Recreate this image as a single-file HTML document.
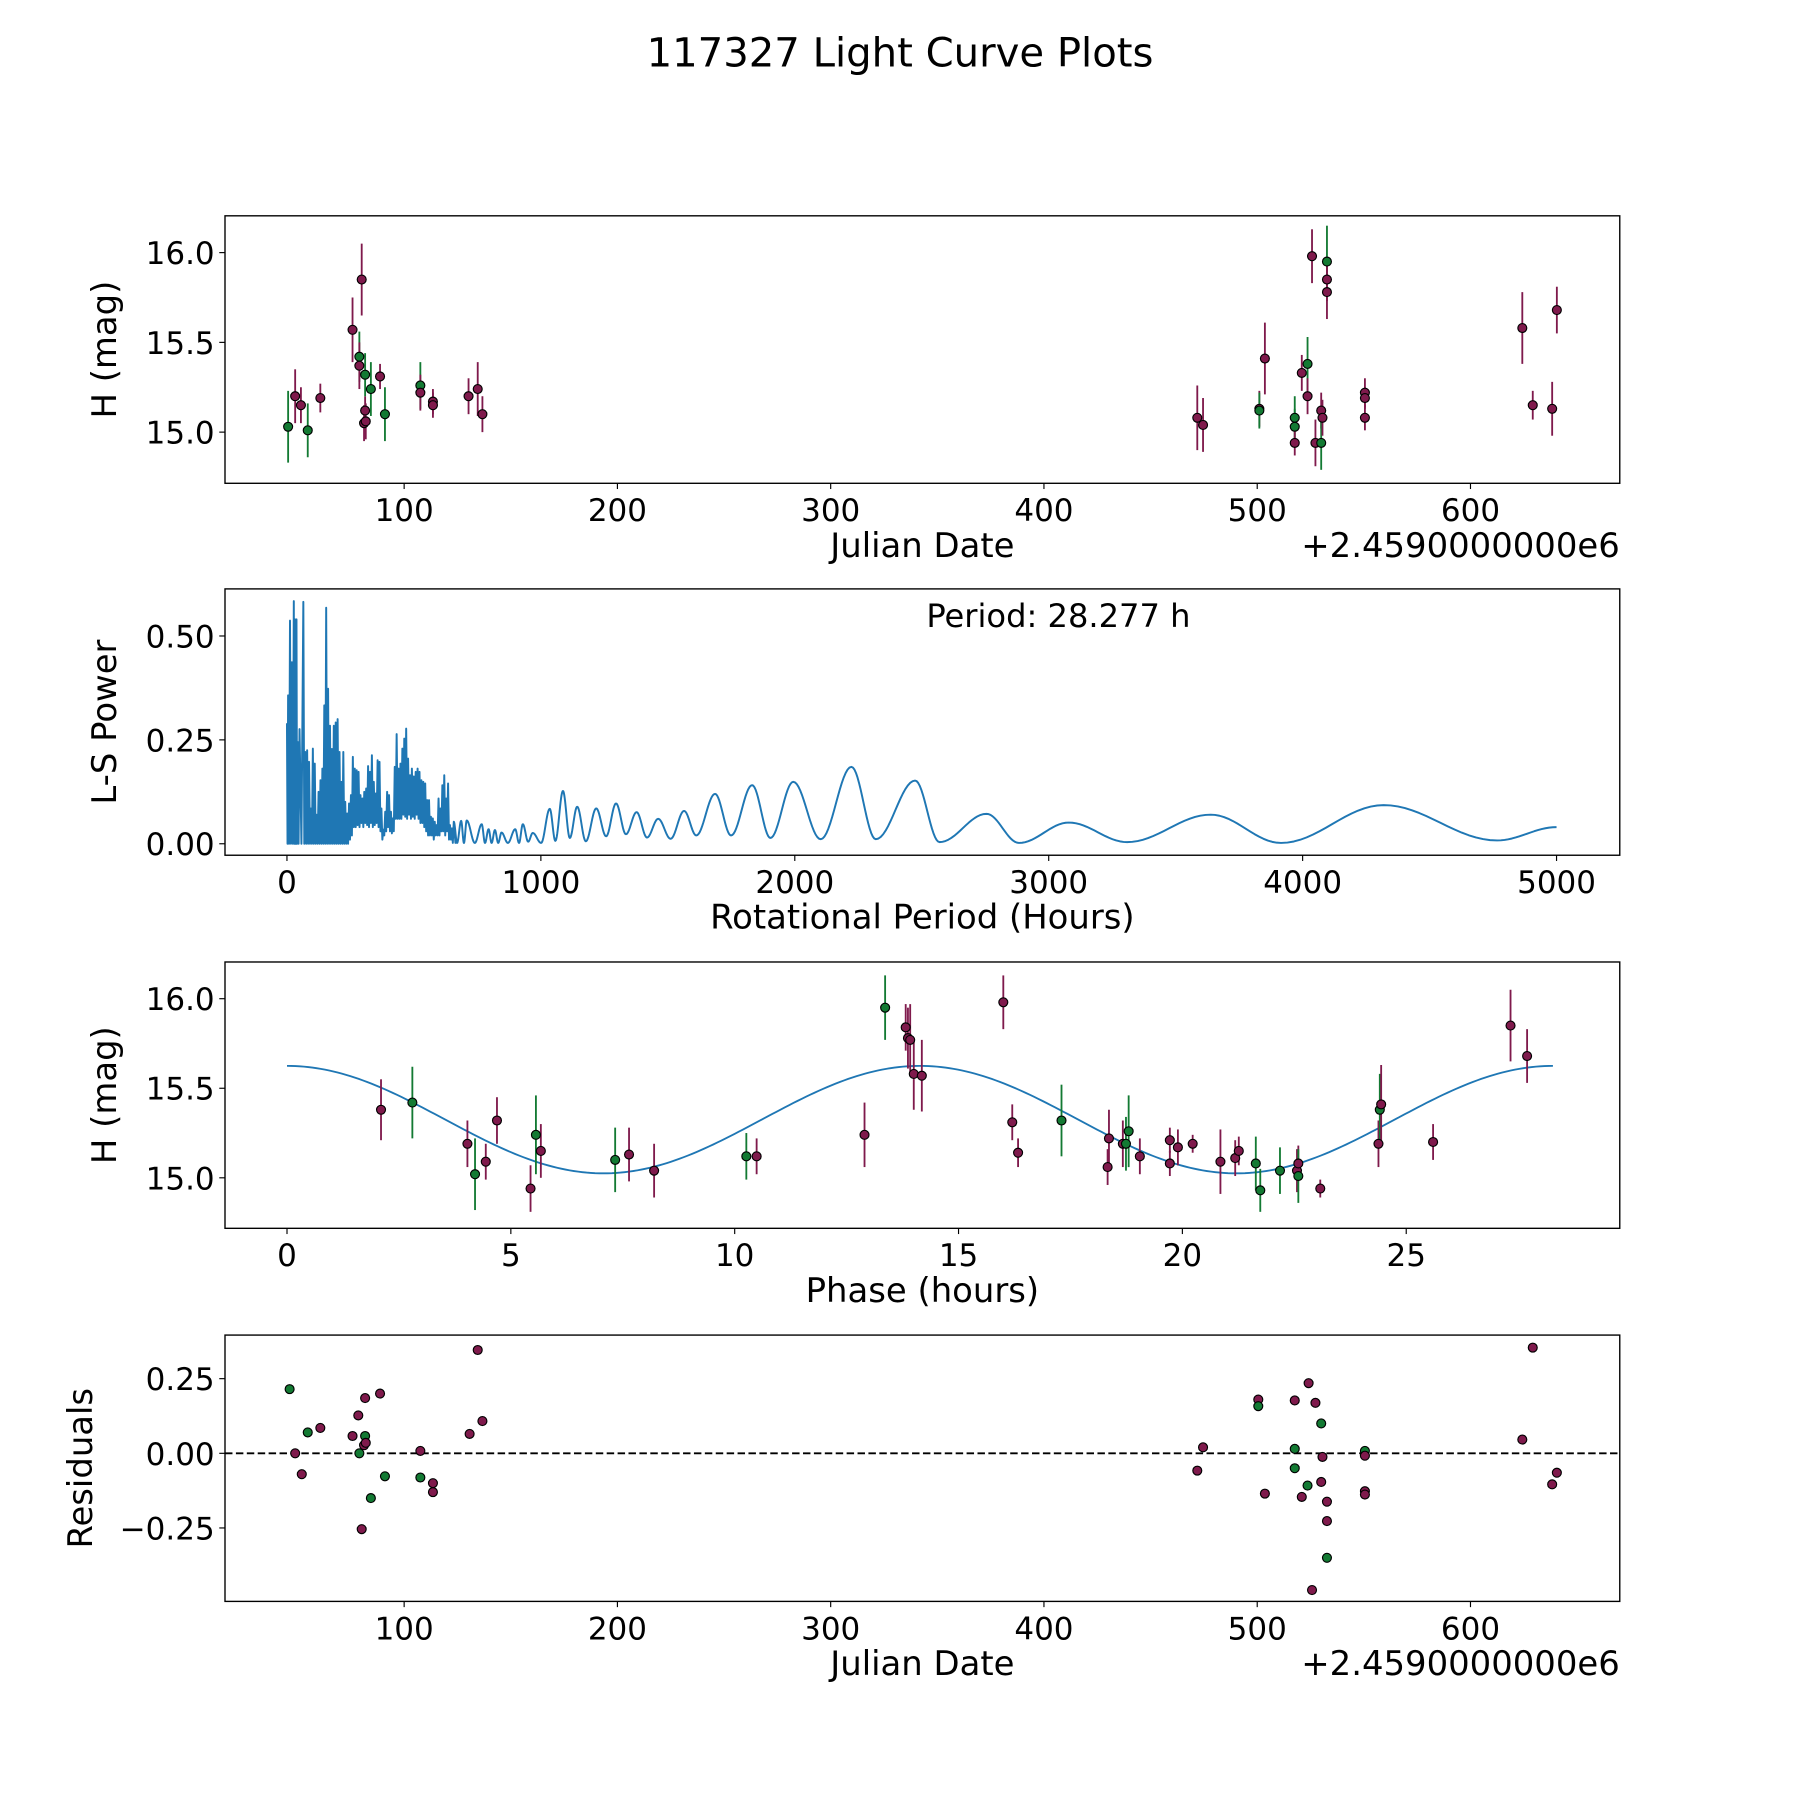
<!DOCTYPE html>
<html><head><meta charset="utf-8"><style>
html,body{margin:0;padding:0;background:#fff;}
svg{display:block;}
text{font-family:"DejaVu Sans","Liberation Sans",sans-serif;fill:#000;}
</style></head><body>
<svg id="fig" width="1800" height="1800" viewBox="0 0 1568 1568" xmlns="http://www.w3.org/2000/svg">
<text x="784" y="58" font-size="35" text-anchor="middle">117327 Light Curve Plots</text>
</svg>
<script>
// ---- Panel 1: light curve (Julian Date offset, mag, error, band 0=red 1=green)
const lcJd  = [45.6,48.9,51.6,54.8,60.7,75.8,79,79,80.1,81.2,81.7,81.7,82,84.4,88.7,91,107.6,107.6,113.5,113.5,130.2,134.5,136.7,471.9,474.6,501,501,503.6,517.6,517.6,517.6,520.9,523.6,523.6,525.7,527.3,530,530,530.6,532.7,532.7,532.7,550.5,550.5,550.5,624.3,629.2,638.3,640.5];
const lcMag = [15.03,15.2,15.15,15.01,15.19,15.57,15.42,15.37,15.85,15.05,15.12,15.32,15.06,15.24,15.31,15.1,15.26,15.22,15.17,15.15,15.2,15.24,15.1,15.08,15.04,15.13,15.12,15.41,15.08,15.03,14.94,15.33,15.38,15.2,15.98,14.94,15.12,14.94,15.08,15.95,15.85,15.78,15.22,15.19,15.08,15.58,15.15,15.13,15.68];
const lcErr = [0.2,0.15,0.1,0.15,0.08,0.18,0.14,0.13,0.2,0.1,0.08,0.12,0.1,0.15,0.07,0.15,0.13,0.1,0.07,0.07,0.1,0.15,0.1,0.18,0.15,0.1,0.1,0.2,0.12,0.1,0.07,0.1,0.15,0.1,0.15,0.13,0.1,0.15,0.1,0.2,0.12,0.15,0.08,0.06,0.07,0.2,0.08,0.15,0.13];
const lcBand= [1,0,0,1,0,0,1,0,0,0,0,1,0,1,0,1,1,0,0,0,0,0,0,0,0,0,1,0,1,1,0,0,1,0,0,0,0,1,0,1,0,0,0,0,0,0,0,0,0];
// ---- Panel 2: periodogram
const lsDensePeriod = [0,4.5,12,19.5,27,31.5,37.5,42,49.5,64.5,72,79.5,87,94.5,102,109.5,117,124.5,132,139.5,147,154.5,162,169.5,177,184.5,192,199.5,207,214.5,222,229.5,237,244.5,252,259.5,267,274.5,282,289.5,297,304.5,312,319.5,327,334.5,342,349.5,357,364.5,372,379.5,387,394.5,402,409.5,417,424.5,432,439.5,447,454.5,462,469.5,477,484.5,492,499.5,507,514.5,522,529.5,537,544.5,552,559.5,567,574.5,582,589.5,597,604.5,612,619.5,627,634.5,642,649.5,657];
const lsDensePeak = [0.29,0.357,0.537,0.437,0.584,0.54,0.54,0.245,0.276,0.582,0.221,0.225,0.197,0.085,0.229,0.193,0.07,0.125,0.153,0.181,0.333,0.568,0.373,0.284,0.228,0.284,0.292,0.3,0.221,0.149,0.221,0.101,0.073,0.097,0.117,0.209,0.181,0.177,0.173,0.117,0.109,0.125,0.133,0.187,0.173,0.213,0.149,0.121,0.201,0.197,0.085,0.034,0.077,0.125,0.117,0.077,0.061,0.185,0.264,0.181,0.193,0.229,0.253,0.277,0.205,0.165,0.181,0.162,0.173,0.181,0.173,0.153,0.149,0.145,0.105,0.105,0.065,0.061,0.053,0.045,0.109,0.085,0.141,0.165,0.109,0.145,0.045,0.037,0.053];
const lsDenseTrough = [0,0,0,0,0,0,0,0,0,0,0,0,0,0,0,0,0,0,0,0,0,0,0,0,0,0,0,0,0,0,0,0,0,0.01,0.02,0.04,0.04,0.045,0.04,0.05,0.04,0.05,0.045,0.04,0.05,0.04,0.045,0.05,0.04,0.03,0.01,0.02,0.03,0.04,0.03,0.025,0.03,0.06,0.06,0.06,0.06,0.07,0.065,0.06,0.07,0.06,0.065,0.06,0.07,0.06,0.05,0.05,0.04,0.03,0.02,0.02,0.02,0.01,0.02,0.02,0.02,0.03,0.03,0.02,0.03,0.01,0.01,0.002,0.002];
const lsSmoothPeriod = [670,686,697,708,740,767,780,794,806,819,832,845,870,899,914,929,950,968,1001,1035,1057,1087,1114,1143,1177,1218,1257,1296,1335,1377,1418,1462,1511,1564,1612,1686,1749,1832,1904,1994,2102,2223,2319,2474,2570,2755,2883,3079,3309,3638,3915,4319,4766,5000];
const lsSmoothPower  = [0.002,0.055,0.002,0.056,0.002,0.047,0.002,0.035,0.002,0.033,0.002,0.027,0.002,0.035,0.002,0.047,0.005,0.026,0.002,0.084,0.007,0.127,0.014,0.089,0.006,0.085,0.018,0.097,0.023,0.076,0.015,0.06,0.012,0.079,0.02,0.12,0.02,0.141,0.014,0.149,0.011,0.185,0.011,0.152,0.004,0.072,0.002,0.051,0.004,0.07,0.002,0.093,0.008,0.04];
const lsTicksX = [0,1000,2000,3000,4000,5000];
const lsTicksY = [0.00,0.25,0.50];
// ---- Panel 3: phase-folded
const phPhase = [2.1,2.8,4.03,4.2,4.44,4.69,5.44,5.56,5.67,7.33,7.64,8.2,10.26,10.49,12.9,13.36,13.82,13.87,13.92,14.0,14.18,16.0,16.2,16.33,17.3,18.33,18.36,18.67,18.74,18.8,19.05,19.72,19.72,19.9,20.23,20.85,21.18,21.26,21.64,21.74,22.18,22.56,22.59,22.59,23.08,24.38,24.41,24.44,25.6,27.33,27.7];
const phMag = [15.38,15.42,15.19,15.02,15.09,15.32,14.94,15.24,15.15,15.1,15.13,15.04,15.12,15.12,15.24,15.95,15.84,15.78,15.77,15.58,15.57,15.98,15.31,15.14,15.32,15.06,15.22,15.19,15.19,15.26,15.12,15.21,15.08,15.17,15.19,15.09,15.11,15.15,15.08,14.93,15.04,15.04,15.08,15.01,14.94,15.19,15.38,15.41,15.2,15.85,15.68];
const phErr = [0.17,0.2,0.13,0.2,0.1,0.13,0.13,0.22,0.15,0.18,0.15,0.15,0.13,0.1,0.18,0.18,0.13,0.17,0.2,0.2,0.2,0.15,0.1,0.08,0.2,0.1,0.16,0.13,0.15,0.2,0.1,0.07,0.07,0.1,0.05,0.18,0.1,0.08,0.15,0.12,0.13,0.12,0.1,0.15,0.05,0.13,0.2,0.22,0.1,0.2,0.15];
const phBand = [0,1,0,1,0,0,0,1,0,1,0,0,1,0,0,1,0,0,0,0,0,0,0,0,1,0,0,0,1,1,0,0,0,0,0,0,0,0,1,1,1,0,0,1,0,0,1,0,0,0,0];
const fitMean = [15.325];
const fitAmp = [0.3];
const fitPeriod = [14.1385];
// ---- Panel 4: residuals
const resJd = [46.3,48.9,52,54.8,60.7,75.8,78.5,79,80.1,81.2,81.7,81.7,82,84.4,88.7,91,107.6,107.6,113.5,113.5,130.7,134.5,136.7,471.9,474.6,500.5,500.5,503.6,517.6,517.6,517.6,520.9,523.6,524.1,525.7,527.3,530,530,530.6,532.7,532.7,532.7,550.5,550.5,550.5,550.5,624.3,629.2,638.3,640.5];
const resVal = [0.215,0,-0.07,0.07,0.085,0.058,0.127,0,-0.254,0.027,0.185,0.058,0.035,-0.15,0.2,-0.077,0.008,-0.081,-0.1,-0.13,0.065,0.346,0.108,-0.058,0.02,0.18,0.158,-0.135,0.177,0.015,-0.05,-0.146,-0.108,0.235,-0.458,0.169,0.1,-0.096,-0.012,-0.162,-0.227,-0.35,0.008,-0.008,-0.127,-0.138,0.046,0.354,-0.104,-0.065];
const resBand = [1,0,0,1,0,0,0,1,0,0,0,1,0,1,0,1,0,1,0,0,0,0,0,0,0,0,1,0,0,1,1,0,1,0,0,0,1,0,0,0,0,1,1,0,0,0,0,0,0,0];
const jdTicks = [100,200,300,400,500,600];
const magTicks = [15.0,15.5,16.0];
const phTicks = [0,5,10,15,20,25];
const resTicks = [-0.25,0.00,0.25];

const NS='http://www.w3.org/2000/svg';
const svg=document.getElementById('fig');
const RED='#7f1a4c', GREEN='#137a33', BLUE='#1f77b4';
function mk(tag,attrs,parent){const e=document.createElementNS(NS,tag);for(const k in attrs)e.setAttribute(k,attrs[k]);(parent||svg).appendChild(e);return e;}
function scale(d0,d1,r0,r1){return v=>r0+(v-d0)*(r1-r0)/(d1-d0);}

function axes(name,L,T,R,B,xs,ys,xt,yt,xfmt,yfmt,xlabel,ylabel,ylabX,offset){
  const g=mk('g',{});
  
  
  xt.forEach(v=>{const x=xs(v);
    const t=mk('line',{x1:x,x2:x,y1:B,y2:B+5,stroke:'#000','stroke-width':1},g);
    
    
    const l=mk('text',{x:x,y:B+33,'font-size':27,'text-anchor':'middle'},g);l.textContent=xfmt(v);
    
    });
  yt.forEach(v=>{const y=ys(v);
    const t=mk('line',{x1:L-5,x2:L,y1:y,y2:y,stroke:'#000','stroke-width':1},g);
    
    
    const l=mk('text',{x:L-9,y:y+10,'font-size':27,'text-anchor':'end'},g);l.textContent=yfmt(v);
    
    });
  const xl=mk('text',{x:(L+R)/2,y:B+64,'font-size':29.5,'text-anchor':'middle'},g);xl.textContent=xlabel;
  
  
  const yl=mk('text',{x:ylabX,y:(T+B)/2,'font-size':29.5,'text-anchor':'middle',transform:`rotate(-90 ${ylabX} ${(T+B)/2})`},g);yl.textContent=ylabel;
  
  
  if(offset){const o=mk('text',{x:R,y:B+64,'font-size':29.5,'text-anchor':'end'},g);o.textContent=offset;
    
    }
  return g;
}
function frame(L,T,R,B){const f=mk('rect',{x:L,y:T,width:R-L,height:B-T,fill:'none',stroke:'#000','stroke-width':1.2});
  
  }
function errPoints(g,xs,ys,X,Y,E,Bd){
  X.forEach((v,i)=>{const col=Bd[i]?GREEN:RED;
    const eb=mk('line',{x1:xs(v),x2:xs(v),y1:ys(Y[i]-E[i]),y2:ys(Y[i]+E[i]),stroke:col,'stroke-width':1.6},g);
    
    });
  X.forEach((v,i)=>{const col=Bd[i]?GREEN:RED;
    const c=mk('circle',{cx:xs(v),cy:ys(Y[i]),r:3.9,fill:col,stroke:'#000','stroke-width':1},g);
    
    });
}
const fmt1=v=>v.toFixed(1), fmt2=v=>v.toFixed(2).replace('-','\u2212'), fmt0=v=>String(v);

// Panel 1
{const L=196,T=188,R=1411,B=421;
 const xs=scale(16,670,L,R), ys=scale(14.715,16.205,B,T);
 axes('light-curve-axes',L,T,R,B,xs,ys,jdTicks,magTicks,fmt0,fmt1,'Julian Date','H (mag)',101,'+2.4590000000e6');
 const g=mk('g',{});
 errPoints(g,xs,ys,lcJd,lcMag,lcErr,lcBand); frame(L,T,R,B);}
// Panel 2
{const L=196,T=513,R=1411,B=745;
 const xs=scale(-244,5249,L,R), ys=scale(-0.0276,0.6133,B,T);
 axes('periodogram-axes',L,T,R,B,xs,ys,lsTicksX,lsTicksY,fmt0,fmt2,'Rotational Period (Hours)','L-S Power',101,null);
 let d='';
 lsDensePeriod.forEach((p,i)=>{d+=(i?'L':'M')+xs(p).toFixed(2)+','+ys(lsDensePeak[i]).toFixed(2);
   const np=i<lsDensePeriod.length-1?lsDensePeriod[i+1]:lsSmoothPeriod[0];
   d+='L'+xs((p+np)/2).toFixed(2)+','+ys(lsDenseTrough[i]).toFixed(2);});
 let px=lsDensePeriod[lsDensePeriod.length-1], pv=lsDensePeak[lsDensePeak.length-1];
 lsSmoothPeriod.forEach((p,i)=>{const v=lsSmoothPower[i];
   for(let k=1;k<=16;k++){const t=k/16, e=(1-Math.cos(Math.PI*t))/2;
     d+='L'+xs(px+(p-px)*t).toFixed(2)+','+ys(pv+(v-pv)*e).toFixed(2);}
   px=p;pv=v;});
 const ln=mk('path',{d:d,fill:'none',stroke:BLUE,'stroke-width':1.7,'stroke-linejoin':'round'});
 
 
 const tx=mk('text',{x:922,y:546,'font-size':28,'text-anchor':'middle'});tx.textContent='Period: 28.277 h';
 
 
 frame(L,T,R,B);}
// Panel 3
{const L=196,T=838,R=1411,B=1070;
 const xs=scale(-1.385,29.77,L,R), ys=scale(14.718,16.205,B,T);
 axes('phase-axes',L,T,R,B,xs,ys,phTicks,magTicks,fmt0,fmt1,'Phase (hours)','H (mag)',101,null);
 let d='';const N=300, end=28.277;
 for(let k=0;k<=N;k++){const p=end*k/N;const m=fitMean[0]+fitAmp[0]*Math.cos(2*Math.PI*p/fitPeriod[0]);
   d+=(k?'L':'M')+xs(p).toFixed(2)+','+ys(m).toFixed(2);}
 const ln=mk('path',{d:d,fill:'none',stroke:BLUE,'stroke-width':1.6});
 
 
 const g=mk('g',{});
 errPoints(g,xs,ys,phPhase,phMag,phErr,phBand); frame(L,T,R,B);}
// Panel 4
{const L=196,T=1163,R=1411,B=1395;
 const xs=scale(16,670,L,R), ys=scale(-0.496,0.396,B,T);
 axes('residuals-axes',L,T,R,B,xs,ys,jdTicks,resTicks,fmt0,fmt2,'Julian Date','Residuals',80,'+2.4590000000e6');
 const z=mk('line',{x1:L,x2:R,y1:ys(0),y2:ys(0),stroke:'#000','stroke-width':1.6,'stroke-dasharray':'6.5,3'});
 
 
 resJd.forEach((v,i)=>{const c=mk('circle',{cx:xs(v),cy:ys(resVal[i]),r:3.9,fill:resBand[i]?GREEN:RED,stroke:'#000','stroke-width':1});
   
   });
 frame(L,T,R,B);}
</script>
</body></html>
